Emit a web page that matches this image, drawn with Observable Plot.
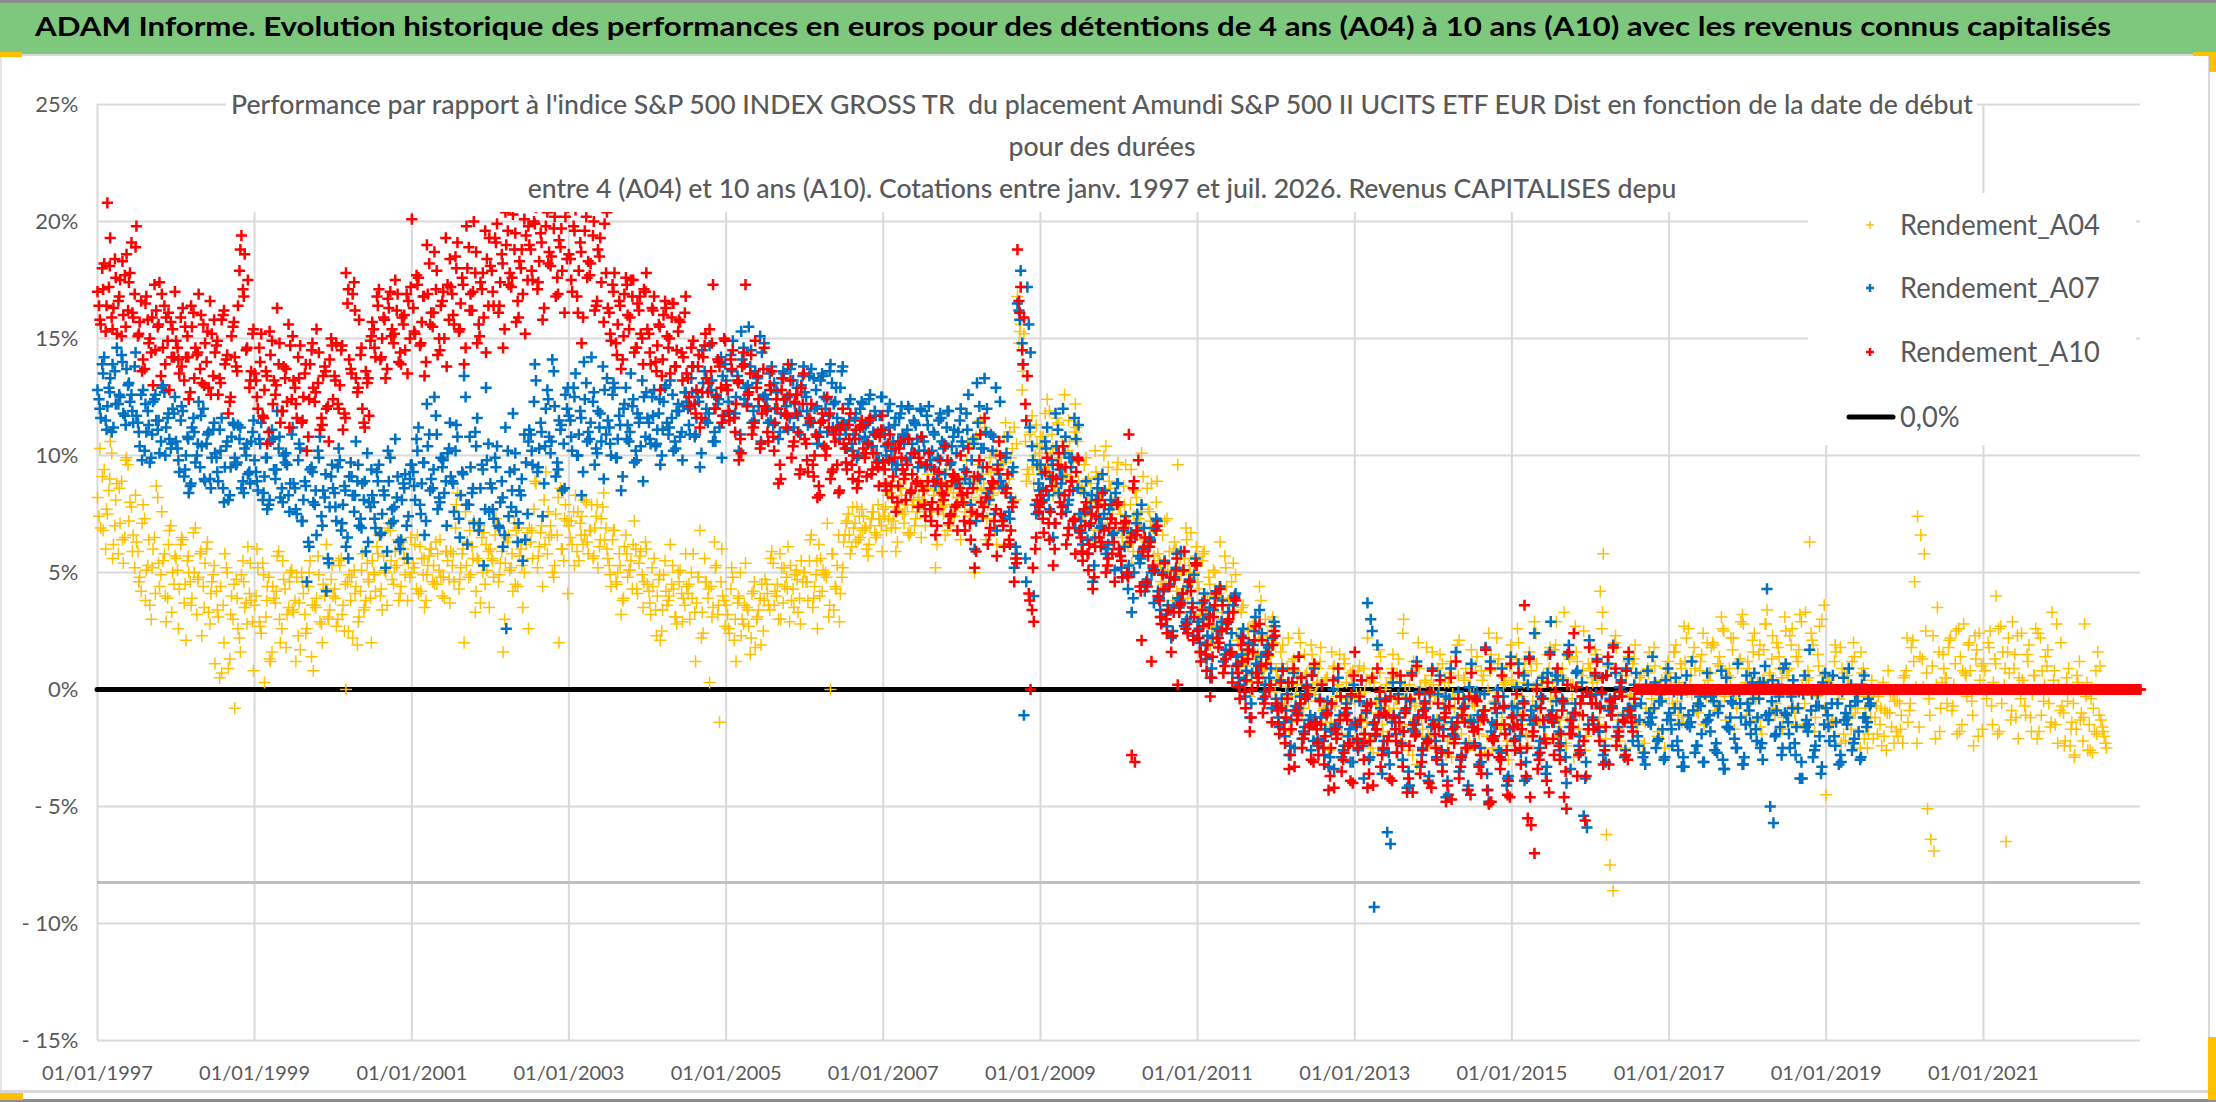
<!DOCTYPE html>
<html lang="fr">
<head>
<meta charset="utf-8">
<script src="https://cdn.jsdelivr.net/npm/d3@7"></script>
<script src="https://cdn.jsdelivr.net/npm/@observablehq/plot@0.6"></script>
<style>
  html, body { margin: 0; padding: 0; background: #fff; }
  #page { position: relative; width: 2216px; height: 1102px; overflow: hidden; background: #fff; }
  #head { position: absolute; left: 0; top: 0; }
  #chart { position: absolute; left: 0; top: 56px; }
  .deco { position: absolute; }
</style>
</head>
<body>
<div id="page">
  <svg id="head" width="2216" height="56"></svg>
  <div id="chart"></div>
  <div class="deco" style="left:0;top:1090px;width:2216px;height:3px;background:#d9d9d9"></div>
  <div class="deco" style="left:0;top:1099px;width:2216px;height:3px;background:#8c8c8c"></div>
  <div class="deco" style="left:2208px;top:56px;width:2px;height:1034px;background:#d9d9d9"></div>
  <div class="deco" style="left:0;top:56px;width:2px;height:1034px;background:#e6e6e6"></div>
  <div class="deco" style="left:0;top:52px;width:22px;height:5px;background:#FFC000"></div>
  <div class="deco" style="left:2193px;top:52px;width:23px;height:4px;background:#FFC000"></div>
  <div class="deco" style="left:2209px;top:52px;width:7px;height:20px;background:#FFC000"></div>
  <div class="deco" style="left:2208px;top:1037px;width:8px;height:63px;background:#FFC000"></div>
  <div class="deco" style="left:0;top:1093px;width:23px;height:7px;background:#FFC000"></div>
</div>
<script>
// ---------------- texts & axes ----------------
const firstYear = 1997;
const titleText = "ADAM Informe. Evolution historique des performances en euros pour des détentions de 4 ans (A04) à 10 ans (A10) avec les revenus connus capitalisés";
const subtitleLines = [
  "Performance par rapport à l'indice S&P 500 INDEX GROSS TR  du placement Amundi S&P 500 II UCITS ETF EUR Dist en fonction de la date de début",
  "pour des durées",
  "entre 4 (A04) et 10 ans (A10). Cotations entre janv. 1997 et juil. 2026. Revenus CAPITALISES depu"
];
const seriesNames = ["Rendement_A04", "Rendement_A07", "Rendement_A10"];
const zeroLineName = "0,0%";
const seriesColors = ["#FFC000", "#0070C0", "#FF0000"];
const yTicks = [-15, -10, -5, 0, 5, 10, 15, 20, 25];
const xTickYears = [1997, 1999, 2001, 2003, 2005, 2007, 2009, 2011, 2013, 2015, 2017, 2019, 2021];
const xDomainYears = [1997, 2023];
const axisCrossValue = -8.25;
const zeroLineValue = 0;

// ---------------- data: one row per year, values in % ----------------
// A10 is 0 once the 10-year horizon is no longer available (from mid-2016)
const ZERO_YEAR = [0,0,0,0,0,0,0,0,0,0,0,0, 0,0,0,0,0,0,0,0,0,0,0,0];

// set "a": readings on the 1st and 16th of each month
const A04a = [
  [8.2,6.9,9.4,7.5,10.6,6.2,8.8,7.1,5.4,9.9,8.0,6.6, 6.3,4.8,7.9,5.1,3.6,6.0,8.7,4.4,5.5,2.9,6.8,5.0],
  [5.6,4.3,6.4,2.1,5.0,3.9,6.9,4.8,2.3,5.4,3.3,4.6, 1.1,3.1,0.7,5.8,0.9,4.0,-0.8,2.6,4.9,3.5,6.1,3.8],
  [3.6,5.2,2.4,0.3,4.4,1.2,3.9,5.7,2.0,4.7,3.2,5.0, 3.3,4.8,1.7,4.1,2.6,5.5,0.8,3.9,2.9,4.5,6.2,3.4],
  [4.0,2.7,5.3,3.6,0.0,4.9,2.2,4.4,3.1,5.8,3.8,4.6, 5.5,4.2,6.6,3.4,5.0,7.1,4.7,5.9,3.8,6.3,4.9,5.4],
  [5.0,6.2,4.1,5.6,3.5,5.3,6.0,4.5,5.8,4.8,3.9,5.5, 5.9,4.6,8.4,5.2,2.0,6.3,4.9,7.2,5.6,3.7,6.7,5.1],
  [6.0,4.8,7.0,5.4,1.6,6.5,5.1,4.2,6.8,5.7,3.5,6.2, 6.9,5.6,8.8,6.1,4.4,9.3,6.5,5.0,7.5,2.0,6.0,7.9],
  [7.0,6.2,8.3,5.5,7.4,6.6,5.8,7.9,6.9,5.2,7.3,6.4, 5.6,4.4,6.8,5.0,3.2,6.1,4.8,5.5,7.2,4.1,5.9,4.6],
  [4.5,3.2,5.6,4.0,2.1,4.9,3.6,6.2,4.3,2.8,5.1,3.9, 4.4,3.0,5.8,3.7,6.8,2.4,4.6,0.3,3.5,5.3,-1.4,4.0],
  [3.6,2.4,4.8,1.2,3.9,3.0,5.4,2.7,4.1,1.8,3.4,4.5, 4.7,3.6,5.9,4.2,3.0,5.2,4.4,6.1,3.8,4.9,3.3,5.5],
  [5.0,3.8,6.6,4.4,2.6,5.6,4.9,7.1,0.0,3.4,5.3,4.1, 6.3,7.2,5.8,6.9,7.8,6.5,7.4,6.0,7.0,7.6,6.6,7.3],
  [7.7,6.8,8.4,7.2,5.9,8.0,7.5,9.0,6.6,7.9,7.3,8.2, 8.1,7.0,8.9,7.6,5.2,8.5,7.8,6.6,8.7,7.4,9.1,7.9],
  [8.9,7.6,10.4,8.2,5.0,9.6,8.5,11.2,7.9,9.3,6.8,8.8, 9.6,10.8,8.4,9.9,11.2,16.8,15.6,15.2,9.4,11.0,8.8,10.5],
  [10.8,9.4,12.4,10.1,8.3,11.6,9.9,12.0,9.0,10.6,9.7,11.2, 8.6,7.4,9.9,8.0,6.4,9.3,8.4,7.1,10.4,8.9,7.7,8.2],
  [7.8,6.5,9.6,7.1,5.4,8.5,7.3,10.1,6.1,7.7,8.8,6.8, 5.8,4.6,7.2,5.1,3.4,6.3,9.6,4.9,5.6,3.9,6.7,5.0],
  [4.6,3.2,5.9,4.0,1.9,5.1,3.6,6.3,2.8,4.4,3.9,5.4, 2.4,1.0,3.6,1.6,-0.3,2.8,1.3,4.4,0.5,2.1,1.7,3.1],
  [0.8,-0.6,1.9,0.1,-1.8,1.2,-0.2,2.4,-1.1,0.6,-0.5,1.5, -0.2,0.9,-1.4,0.4,-2.6,1.6,-0.7,0.2,-1.9,1.1,-0.4,0.6],
  [-0.4,0.8,-1.6,-0.1,2.2,-2.5,0.3,-1.0,1.4,-0.7,-2.0,0.5, -0.8,0.6,-2.2,3.0,-0.3,-1.5,1.2,-3.2,0.1,-0.9,1.8,-0.5],
  [0.2,-1.3,1.5,-0.6,-2.8,0.7,-0.2,-1.7,2.1,-0.4,0.9,-2.2, -0.6,1.0,-1.9,0.4,-0.9,2.4,-2.5,-0.1,1.3,-1.2,0.3,-3.0],
  [0.4,-1.1,2.0,-0.3,1.1,-2.4,0.8,2.9,-0.8,0.1,-1.6,1.5, -0.4,1.7,-2.0,0.6,3.3,-1.2,0.2,-2.9,1.2,-0.6,2.5,-0.1],
  [0.9,-1.3,0.4,4.2,5.8,-6.2,-7.5,-8.6,1.8,-2.2,-1.0,0.6, -0.3,1.1,-1.8,0.5,-2.7,-0.8,1.6,-1.2,0.2,-2.1,-0.4,0.9],
  [0.7,-0.6,1.9,0.3,-1.4,1.2,2.6,-0.2,0.9,-1.0,1.5,0.1, 0.4,1.8,-0.9,1.1,3.1,-0.3,0.6,2.2,-1.7,0.9,2.9,0.0],
  [1.2,-0.5,2.4,0.3,-1.6,1.7,3.4,0.6,-0.8,2.0,0.9,-1.2, 0.8,2.3,-0.7,1.4,3.2,-1.5,0.4,6.3,1.9,-0.3,2.7,0.6],
  [-4.5,0.5,-1.3,1.6,-0.4,0.9,-2.2,0.2,1.2,-1.0,-0.3,0.7, -0.8,-1.9,0.4,-1.2,-0.3,-2.4,-0.9,0.8,-1.6,-0.5,-2.0,-1.1],
  [0.6,-1.4,1.8,4.6,7.4,6.6,5.8,-5.1,-6.4,-6.9,3.5,-0.8, 0.9,-0.6,2.2,0.2,-1.9,1.4,2.8,-0.3,0.8,-2.4,1.7,0.4],
  [1.1,-0.4,2.5,0.3,4.0,-1.8,1.6,-6.5,0.7,2.9,-1.2,0.5, 0.4,-1.1,1.9,-0.2,2.6,-1.8,0.8,1.4,-0.6,3.3,-1.5,0.2],
  [-0.7,-2.2,0.9,-1.4,-2.8,0.3,-1.0,2.8,-2.6,-0.4,-1.8,1.6, -1.3,-2.0]
];
// set "b": readings on the 8th and 23rd of each month
const A04b = [
  [7.4,9.1,6.0,8.5,10.1,7.0,5.8,8.9,6.5,9.6,7.8,5.2, 5.9,4.2,7.3,5.3,3.0,6.5,8.2,4.9,5.8,3.9,7.0,4.5],
  [5.1,6.2,3.7,5.5,4.6,6.7,3.2,5.8,4.4,6.0,2.8,4.9, 4.2,0.5,3.6,5.2,1.3,3.0,4.7,2.2,5.5,3.7,4.1,2.9],
  [4.0,2.9,5.4,3.1,4.8,1.6,3.7,5.9,2.6,4.3,3.5,5.1, 3.8,2.3,5.0,3.2,4.4,1.4,3.6,5.7,2.8,4.0,3.1,4.7],
  [4.3,3.0,5.6,2.5,4.6,3.8,5.1,1.9,4.2,3.4,5.4,3.9, 5.0,6.1,4.0,5.7,3.6,6.8,4.5,5.3,4.1,6.0,5.6,4.8],
  [5.4,4.3,6.1,4.9,3.8,5.7,4.6,6.3,5.1,4.0,5.9,4.7, 5.3,6.9,4.3,5.8,7.6,4.8,6.1,3.3,5.5,6.5,4.5,5.9],
  [5.6,6.6,4.6,5.9,3.0,6.3,5.2,7.1,4.4,6.0,5.0,6.7, 6.3,7.7,5.2,6.7,8.1,5.8,7.0,4.8,6.6,8.6,5.5,7.2],
  [6.5,7.6,5.9,7.1,6.2,8.0,6.8,5.6,7.4,6.1,7.8,6.9, 5.3,6.4,4.6,5.8,3.8,6.6,5.1,4.3,6.0,5.4,4.9,6.3],
  [4.2,5.2,3.4,4.7,2.5,5.5,3.8,4.5,3.1,5.0,4.1,3.6, 4.1,5.0,3.3,4.8,2.2,5.6,3.9,4.4,6.3,3.2,4.6,3.8],
  [3.2,4.3,2.1,3.7,5.0,2.8,3.5,1.5,4.2,3.0,3.9,2.5, 4.5,3.4,5.4,4.0,5.8,3.7,4.8,2.9,4.3,5.1,3.9,4.6],
  [4.6,5.5,3.5,4.9,6.2,4.2,5.0,3.1,5.8,4.4,6.6,4.8, 6.6,7.5,6.1,7.1,6.4,7.7,6.9,5.7,7.3,6.7,7.9,7.0],
  [7.4,8.3,6.9,7.8,6.3,8.6,7.1,7.9,6.7,8.1,7.6,8.8, 7.7,8.6,7.2,8.3,6.2,8.0,7.5,9.4,7.0,8.4,7.9,8.8],
  [8.6,9.8,7.4,8.9,10.8,8.1,9.2,6.4,9.5,8.3,10.1,8.7, 9.8,11.4,9.0,10.3,8.1,14.8,12.8,10.6,9.2,11.7,10.0,9.5],
  [10.4,11.8,9.3,10.9,8.7,11.4,9.6,12.6,10.2,9.1,11.0,10.6, 8.5,9.6,7.7,8.8,6.8,9.1,8.1,10.0,7.3,8.6,7.9,9.4],
  [7.5,8.7,6.6,7.9,5.9,8.2,7.0,9.1,6.3,7.6,6.9,8.0, 5.5,6.6,4.4,5.9,3.8,6.0,5.2,4.1,6.9,5.3,4.7,5.7],
  [4.3,5.5,3.5,4.8,2.6,5.0,4.1,3.0,5.7,3.8,4.6,3.4, 2.1,3.3,1.2,2.6,0.3,2.9,1.5,3.8,0.9,2.3,1.1,2.0],
  [0.5,1.6,-0.4,0.9,-1.4,1.3,0.2,2.0,-0.8,0.7,-0.1,1.0, 0.2,1.2,-0.9,0.5,-1.6,0.9,-0.3,1.5,-1.2,0.3,-0.6,0.8],
  [-0.2,1.0,-1.2,0.4,-2.1,0.6,-0.6,1.7,-1.5,0.0,-0.9,0.9, -0.4,1.3,-1.6,0.2,-2.6,0.8,-0.7,2.0,-1.2,0.4,-2.0,0.6],
  [-0.3,0.9,-1.5,0.3,-2.2,1.2,-0.8,1.9,-1.1,0.5,-2.6,0.1, -0.2,1.4,-1.3,0.6,-2.0,0.8,-0.6,2.2,-1.7,0.2,-2.4,1.0],
  [0.2,1.3,-1.0,0.7,-1.9,1.6,-0.5,2.4,-1.4,0.4,-2.2,0.9, 0.3,1.9,-1.3,0.9,-2.3,1.4,-0.4,2.7,-1.7,0.6,-2.6,1.1],
  [0.5,1.7,-1.5,2.6,-2.4,1.0,-0.7,2.0,-1.3,0.3,-2.8,1.2, -0.2,1.3,-1.5,0.6,-2.3,0.9,-0.9,1.8,-2.0,0.1,-2.9,0.5],
  [0.5,1.6,-0.5,1.1,-1.2,2.2,0.2,1.4,-0.9,0.8,2.4,-0.3, 0.7,2.0,-0.6,1.4,2.6,-1.3,0.9,1.7,-0.4,1.2,3.2,0.3],
  [0.9,2.1,-0.4,1.5,-1.9,2.8,0.2,1.3,-1.1,1.8,0.5,3.1, 0.6,1.9,-1.0,1.2,2.9,-0.6,0.8,2.4,-1.8,1.5,0.1,3.6],
  [0.3,-1.5,1.2,-0.6,1.8,-1.9,0.6,-1.1,2.0,-0.2,-2.5,0.9, -1.2,-0.3,-2.1,-0.7,-1.5,0.3,-2.6,-1.0,-0.2,-1.8,-0.6,-2.3],
  [0.8,-0.9,2.1,0.1,-1.6,1.3,2.5,-0.4,1.0,-2.1,1.6,0.3, 0.5,1.8,-0.9,1.1,2.6,-1.5,0.7,1.9,-0.5,2.3,-2.0,1.0],
  [0.8,2.0,-0.7,1.3,-1.9,2.7,0.2,1.6,-1.3,0.9,2.3,-0.4, 0.1,1.5,-1.2,0.6,-2.1,2.2,-0.5,1.0,-1.6,0.4,2.8,-0.9],
  [-1.0,0.5,-2.4,-0.6,-1.7,1.2,-2.2,-0.3,-1.5,-2.7,0.8,-1.1, -1.6,-2.3]
];
// set "c": readings on the 12th and 27th of each month
const A04c = [
  [10.3,6.8,7.7,9.0,5.6,8.1,8.6,6.4,9.8,7.2,5.9,8.3, 4.6,7.1,3.8,6.4,5.2,4.1,5.4,7.6,4.0,6.2,3.3,5.7],
  [2.6,6.5,4.5,5.7,3.6,5.0,4.7,5.9,3.5,6.3,4.1,5.3, 3.4,4.4,2.0,5.0,3.2,4.5,3.9,1.6,4.6,2.8,5.4,0.8],
  [6.0,2.7,4.9,3.8,1.3,4.4,4.2,3.0,5.5,1.8,4.6,3.4, 1.2,3.7,4.6,2.4,5.0,3.6,3.5,4.9,2.0,4.3,3.0,5.3],
  [3.9,5.5,3.2,4.5,2.5,4.8,4.1,2.9,5.1,3.5,4.7,2.0, 4.9,5.8,4.3,5.1,6.9,5.5,5.2,6.4,4.4,5.6,3.8,6.5],
  [5.2,6.6,4.2,5.6,4.9,6.0,5.3,4.5,6.4,4.8,5.9,3.7, 5.8,7.9,4.7,6.0,5.3,6.8,5.6,4.2,7.0,5.0,6.2,3.5],
  [5.5,7.3,4.9,6.1,5.4,6.6,5.8,4.5,6.9,5.3,6.4,2.6, 6.8,8.9,5.7,7.0,6.2,7.6,6.6,5.3,8.2,6.0,7.3,4.1],
  [7.2,5.3,7.6,6.6,8.1,6.3,6.8,5.7,7.9,6.4,8.4,6.0, 4.9,6.8,4.5,5.3,3.9,5.8,5.1,6.2,4.3,5.7,3.5,6.0],
  [3.7,4.4,2.3,4.9,3.4,4.2,4.0,5.3,3.1,4.6,2.9,5.8, 4.5,3.9,1.2,4.8,3.3,4.6,4.3,3.1,5.2,3.6,6.0,2.7],
  [2.6,5.2,3.0,4.0,2.3,3.6,3.4,2.2,4.6,3.1,1.9,3.8, 4.1,5.6,3.6,4.5,3.0,5.2,4.3,5.3,3.5,4.7,2.8,5.0],
  [4.6,6.4,3.9,5.5,4.0,5.1,4.8,3.6,5.8,4.3,2.9,5.2, 7.1,6.6,7.8,6.3,7.4,6.8,6.9,6.2,7.6,6.5,7.3,5.9],
  [7.8,7.3,8.9,6.9,7.7,8.3,7.6,6.7,8.5,7.0,8.1,6.5, 8.0,9.2,7.2,8.5,7.6,8.9,7.9,6.8,8.7,7.4,8.2,6.4],
  [8.0,10.6,7.7,9.0,8.6,11.5,8.8,7.3,9.9,8.4,6.2,9.4, 9.7,8.6,11.0,9.3,10.5,15.3,13.6,8.9,10.9,9.5,11.3,10.1],
  [10.8,9.5,11.9,10.3,8.5,11.3,10.6,9.2,11.5,10.0,12.2,8.9, 8.7,7.2,9.0,8.0,10.2,7.8,8.4,7.5,9.5,8.1,6.9,9.7],
  [6.8,7.9,6.2,9.4,7.4,6.6,7.6,6.4,8.6,7.2,5.7,8.9, 5.4,4.5,7.3,4.8,5.9,4.2,5.6,4.3,6.4,5.0,3.7,6.1],
  [3.5,5.8,3.1,4.5,2.7,4.0,4.4,3.3,5.2,3.8,2.4,4.9, 1.9,3.5,1.0,2.5,0.6,1.5,2.2,0.8,3.0,1.4,2.7,-0.1],
  [0.4,1.1,-0.7,2.2,-0.3,0.8,0.6,-0.8,1.5,0.0,1.9,-1.5, 0.3,1.8,-0.8,0.5,-1.4,1.0,0.1,-1.1,1.3,-0.4,0.7,-2.2],
  [-2.3,-0.2,0.9,-1.4,0.4,-2.7,-0.5,0.7,-1.8,0.2,-1.1,1.5, -0.4,-1.2,2.4,-0.9,0.2,-2.8,-0.6,0.9,-1.7,0.3,-2.4,1.6],
  [-2.4,-0.1,1.1,-1.0,0.3,-2.9,-0.4,0.6,-1.9,0.4,-1.3,1.7, -0.7,-1.4,0.8,-2.7,0.0,1.5,-0.5,1.1,-1.6,0.5,-2.2,1.9],
  [-0.6,2.6,-1.5,0.3,-2.5,1.2,0.1,1.1,-1.3,0.6,-2.1,1.8, -0.5,2.9,-1.6,0.5,-2.4,1.3,0.2,1.6,-1.1,0.8,-2.0,2.1],
  [0.3,1.5,-1.2,3.3,-2.1,1.1,-0.6,2.3,-1.7,0.6,-2.5,1.4, -0.8,1.9,-2.2,-0.1,-1.4,0.7,-0.4,1.0,-1.8,0.4,-2.5,1.2],
  [0.1,1.6,-1.1,0.9,2.7,-0.1,0.6,1.8,-0.7,1.2,-1.5,2.0, 0.7,1.9,-0.5,1.0,2.5,0.2,0.5,2.2,-0.8,1.3,2.8,-1.1],
  [0.3,1.6,-1.3,1.9,0.4,2.8,0.7,2.3,-0.6,1.4,-1.7,2.5, 0.9,2.6,-1.5,1.7,0.2,3.3,0.5,2.1,-1.2,1.0,3.0,-0.8],
  [0.4,-1.3,1.9,-0.4,-2.3,0.7,0.1,-1.7,1.4,-0.8,1.6,-2.1, -2.5,-1.2,-0.1,-1.9,-0.8,-2.0,-1.0,-0.2,-2.3,-0.5,-1.7,0.5],
  [2.2,-0.6,1.2,-2.3,1.4,0.1,0.7,-1.1,2.3,0.2,-1.8,1.5, 0.5,2.1,-0.7,2.5,-1.8,0.8,0.6,2.0,-1.1,1.3,2.4,-1.7],
  [0.0,1.8,-1.5,1.1,2.6,-0.6,0.9,2.2,-0.9,1.5,-2.1,2.4, -0.7,1.2,-1.8,0.6,2.4,-1.1,0.2,1.7,-1.4,0.8,-2.3,2.0],
  [-2.4,-0.5,-1.7,-2.9,0.6,-1.3,-1.2,0.3,-2.6,-0.8,-1.9,1.0, -1.8,-2.5]
];

const A07a = [
  [12.8,11.6,14.2,12.1,13.3,11.2,14.6,12.5,11.8,13.7,12.3,11.4, 11.7,10.4,12.8,11.0,9.7,12.3,11.5,10.1,13.0,11.2,10.7,12.0],
  [10.6,9.3,11.9,10.0,8.4,11.2,9.7,12.3,10.4,8.9,11.0,9.9, 10.1,8.9,11.6,9.5,8.1,10.8,9.9,11.3,8.6,10.3,9.2,10.6],
  [9.8,8.5,11.4,9.1,7.7,10.6,9.4,11.9,8.2,10.0,9.6,8.8, 8.8,7.5,10.3,8.1,4.6,9.4,8.0,6.6,10.8,8.5,4.2,7.8],
  [8.6,7.2,9.8,7.9,6.1,9.1,8.3,10.6,7.0,8.8,5.9,8.0, 8.3,6.9,9.6,7.5,5.2,8.9,7.7,10.7,6.3,8.1,9.2,7.4],
  [9.6,8.1,11.2,8.8,6.6,10.4,9.0,12.5,7.7,9.9,8.4,10.1, 9.1,7.6,10.8,8.3,13.4,6.2,9.5,7.1,11.6,8.6,5.3,9.8],
  [8.8,7.3,10.4,8.0,6.1,2.6,9.3,11.8,7.6,8.5,5.5,9.7, 11.1,9.6,13.2,10.3,7.4,12.0,10.8,14.1,9.1,11.5,8.5,12.6],
  [11.7,10.2,13.5,10.9,8.3,12.4,11.0,14.2,9.6,11.9,10.6,12.8, 11.5,10.0,12.9,10.7,8.5,12.2,11.3,13.5,9.7,11.8,10.4,12.5],
  [11.6,10.5,12.8,11.1,9.6,12.3,11.4,13.2,10.2,11.9,10.8,12.1, 12.3,10.9,13.8,11.6,9.5,13.1,12.0,14.7,10.6,12.6,11.2,13.4],
  [13.2,11.8,14.9,12.5,10.2,14.1,12.9,15.5,11.4,13.6,12.1,14.4, 12.6,11.4,13.8,12.0,10.7,13.3,12.4,11.1,13.9,12.2,11.7,13.0],
  [12.7,11.3,13.7,12.0,10.5,13.2,12.5,11.0,13.9,12.2,11.6,12.9, 11.4,10.3,12.4,10.9,9.9,12.0,11.2,10.6,12.6,11.0,10.1,11.7],
  [11.1,10.0,12.2,10.6,9.4,11.6,10.9,9.8,12.0,10.5,11.3,10.2, 10.8,9.5,12.1,10.2,8.7,11.5,10.6,9.2,11.9,10.4,8.9,11.0],
  [10.6,9.0,12.6,9.8,6.0,11.4,10.3,13.3,8.4,10.9,7.5,9.6, 8.9,7.4,10.8,8.2,5.2,16.5,17.9,-1.1,17.2,14.4,4.0,9.6],
  [9.6,8.1,11.2,9.0,6.5,10.4,9.4,12.0,7.6,9.9,8.5,10.7, 7.5,6.2,8.9,7.0,4.6,8.1,7.3,9.2,5.8,7.7,6.6,8.4],
  [6.0,4.8,7.4,5.3,3.3,6.6,5.7,7.9,4.2,6.1,5.0,6.9, 4.2,3.1,5.5,3.6,2.2,4.8,3.9,5.9,2.7,4.4,3.3,4.9],
  [2.9,1.6,4.1,2.3,0.5,3.4,2.6,4.4,1.2,2.8,1.9,3.6, 1.4,0.2,2.6,0.8,-1.2,1.9,1.1,3.4,-0.4,1.6,0.5,2.2],
  [-0.4,-1.6,0.9,-0.9,-2.8,0.3,-0.7,1.4,-2.1,-0.2,-1.3,0.6, -1.2,-2.4,0.2,-1.7,-3.3,-0.6,-1.5,0.5,-2.9,-1.0,-2.0,-0.3],
  [-1.4,-2.6,0.4,-1.9,3.7,3.0,-9.3,1.9,-0.8,-2.2,-6.1,-6.6, -1.1,-2.7,0.3,-1.8,-4.2,-0.5,-1.4,1.2,-3.3,-0.9,-2.1,-0.2],
  [-1.3,-2.9,0.6,-1.7,-4.6,-0.4,-1.9,1.6,-3.5,-0.8,-2.3,0.1, -1.6,-0.3,-3.2,-1.1,1.8,-4.8,-1.4,-0.6,-2.6,0.9,-1.9,-3.7],
  [-0.7,-2.1,1.1,-1.3,-3.9,0.2,-0.9,2.4,-2.8,-0.3,-1.6,0.7, 2.9,-1.4,0.4,-2.3,-0.6,1.5,-3.4,-1.0,0.8,-2.7,-5.4,-5.9],
  [-0.2,-1.5,1.3,-0.7,-2.8,0.6,-0.4,1.9,-2.0,0.1,-1.1,0.9, -0.8,-2.2,0.7,-1.3,-2.9,0.2,-1.0,1.4,-2.5,-0.5,-1.7,0.4],
  [-1.0,-2.4,0.5,-1.5,-3.3,0.1,-1.1,1.2,-2.7,-0.6,-1.9,-0.2, -1.3,-0.3,-2.6,-1.0,0.8,-3.4,-1.6,-0.5,-2.1,1.1,-1.2,-2.9],
  [-0.6,-1.9,0.7,-1.2,-2.5,0.3,4.3,-5.0,-5.7,-0.9,-1.6,0.9, -1.1,-2.5,0.4,-1.6,-3.8,-0.2,-1.3,1.7,-2.9,-0.7,-2.0,0.3],
  [-0.8,-2.2,0.6,-1.4,-3.2,-0.1,-1.0,0.9,-2.6,-0.5,-1.8,0.2, -1.2,-0.4]
];
const A07b = [
  [12.4,13.9,11.5,12.9,11.0,13.6,12.2,14.3,11.7,13.0,12.6,13.8, 11.4,12.6,10.2,11.9,9.9,12.4,11.1,10.6,12.7,11.6,10.3,11.8],
  [10.3,11.5,9.1,10.8,8.7,11.6,10.0,9.5,12.0,10.5,9.0,11.1, 9.9,11.1,8.6,10.4,8.3,11.4,9.6,10.7,8.9,10.0,9.3,11.0],
  [9.3,10.7,8.1,9.9,7.9,11.1,9.0,10.3,8.6,9.7,8.3,10.9, 8.6,9.8,7.2,8.9,6.3,9.5,7.9,10.2,7.4,8.2,5.6,9.1],
  [8.4,9.5,6.8,8.7,6.5,9.7,7.6,8.9,7.3,8.1,10.1,7.8, 8.0,9.3,6.6,8.5,5.9,9.9,7.2,8.2,6.0,8.8,7.0,9.0],
  [9.3,10.7,7.9,9.7,7.2,10.9,8.6,11.7,8.2,9.5,8.9,10.3, 8.9,10.2,7.3,9.3,12.5,7.9,8.4,11.0,6.8,9.6,7.7,10.5],
  [8.6,9.9,7.0,8.9,6.6,10.2,7.8,9.4,6.3,8.3,10.9,7.5, 10.9,12.3,9.3,11.4,8.8,12.8,10.1,13.6,9.7,11.1,10.5,12.0],
  [11.5,12.9,10.0,11.9,9.3,13.1,10.7,12.3,10.3,11.2,13.8,10.9, 11.2,12.6,9.9,11.7,9.1,12.9,10.6,12.1,10.2,11.4,13.2,10.8],
  [11.4,12.5,10.4,11.8,10.0,12.9,10.9,11.6,10.6,12.2,11.0,12.7, 12.0,13.3,10.8,12.5,10.1,13.6,11.4,12.8,11.0,12.2,14.2,11.7],
  [12.8,14.3,11.6,13.4,10.9,14.6,12.2,13.8,11.9,13.1,15.1,12.5, 12.4,13.5,11.3,12.8,11.0,13.6,12.1,11.6,13.2,12.6,11.9,13.4],
  [12.5,13.4,11.4,12.8,10.8,13.5,12.0,11.7,13.1,12.3,11.2,13.6, 11.2,12.2,10.5,11.6,10.0,12.3,10.8,11.4,10.4,11.9,11.0,12.5],
  [10.9,11.9,10.2,11.3,9.6,11.8,10.5,11.1,9.9,11.5,10.7,12.0, 10.6,11.7,9.8,11.0,9.0,11.8,10.3,11.2,9.6,10.8,10.1,11.5],
  [10.4,11.8,8.8,10.7,7.2,12.1,9.5,11.0,8.1,10.2,12.9,9.2, 8.6,9.9,7.6,9.3,6.1,16.2,14.8,5.6,15.6,10.4,7.9,8.8],
  [9.2,10.6,8.3,9.8,7.1,11.1,8.8,10.1,7.9,9.5,11.6,8.6, 7.2,8.4,6.4,7.8,5.3,8.6,6.9,7.5,6.0,8.1,6.7,8.8],
  [5.7,6.8,4.9,6.3,3.9,7.1,5.4,6.0,4.5,6.5,5.2,7.3, 3.9,5.0,3.2,4.5,2.5,5.2,3.5,4.1,2.9,4.7,3.7,5.6],
  [2.6,3.7,1.9,3.2,0.9,3.9,2.2,2.9,1.5,3.3,2.4,4.0, 1.1,2.3,0.4,1.7,-0.6,2.5,0.7,1.4,-0.1,1.9,0.9,2.9],
  [-0.7,0.4,-1.4,-0.2,-2.4,0.7,-1.0,-0.3,-1.8,0.2,-1.1,-2.2, -1.5,-0.4,-2.2,-0.9,-2.9,0.0,-1.9,-1.1,-2.6,-0.6,-1.7,-3.1],
  [-1.6,-0.5,-2.4,-1.0,-3.0,2.5,-2.0,-1.2,-3.6,-0.4,-2.7,-1.4, -1.4,-0.2,-2.3,-0.9,-3.5,0.7,-1.8,-1.1,-2.8,-0.5,-3.9,-1.6],
  [-1.5,-0.2,-2.6,-0.8,-3.9,0.9,-2.0,-1.2,-3.0,-0.4,-4.3,-1.3, -1.4,-0.1,-2.5,-0.9,-3.6,1.2,-2.1,-1.0,-2.9,-0.3,-4.1,-1.7],
  [-1.1,0.1,-2.0,-0.5,-3.1,1.4,-1.5,-0.7,-2.5,0.5,-3.6,-1.2, -0.9,0.6,-1.8,-0.4,-2.9,1.9,-1.3,-0.6,-2.4,0.3,-3.8,-1.5],
  [-0.6,0.6,-1.8,-0.2,-2.4,1.1,-1.1,-0.3,-1.6,0.4,-2.9,-0.8, -1.1,0.2,-2.0,-0.6,-2.7,0.8,-1.5,-0.8,-2.2,-0.2,-3.0,-1.3],
  [-1.3,-0.1,-2.2,-0.8,-2.9,0.6,-1.6,-0.9,-2.4,-0.3,-3.1,-1.4, -1.1,-0.2,-2.3,-0.7,-3.0,0.5,-1.7,-0.6,-2.5,-0.1,-3.2,-1.5],
  [-0.9,0.3,-1.7,-0.4,-2.3,1.0,-1.3,-0.5,-2.0,0.2,-2.8,-1.0, -1.4,-0.3,-2.3,-0.8,-3.1,0.6,-1.8,-0.9,-2.6,-0.2,-3.6,-1.5],
  [-1.1,0.1,-2.0,-0.6,-2.8,0.5,-1.5,-0.7,-2.3,-0.1,-3.0,-1.2, -1.6,-0.7]
];
const A07c = [
  [12.0,13.5,11.1,12.7,13.9,12.2,12.6,14.0,11.3,13.1,11.9,14.4, 11.0,9.8,12.2,11.3,10.9,12.6,11.5,12.9,10.0,11.8,10.5,12.5],
  [9.8,12.1,9.4,10.7,8.8,11.0,10.5,11.7,9.0,10.9,8.6,11.4, 9.3,10.2,8.0,10.6,9.5,11.3,9.7,11.2,8.4,10.5,8.8,11.5],
  [8.9,10.5,8.4,9.9,8.1,10.7,9.4,10.8,8.0,10.1,7.6,11.2, 7.7,10.5,7.2,8.7,6.1,9.3,8.5,9.9,7.0,9.2,5.4,9.6],
  [7.8,10.3,7.1,8.5,5.6,9.1,8.3,9.6,6.9,8.9,6.3,9.4, 7.3,8.9,6.7,8.3,10.2,7.1,7.8,9.1,6.4,8.6,5.6,9.6],
  [8.7,10.2,7.5,9.7,12.2,8.5,9.4,10.9,8.0,9.8,7.0,11.4, 8.8,11.3,6.5,9.2,7.9,10.8,8.6,10.4,7.1,9.4,12.9,7.6],
  [7.7,9.5,6.9,8.2,11.2,7.4,8.5,10.1,7.1,9.0,6.4,10.6, 10.2,13.9,9.5,11.0,10.4,12.4,10.6,12.1,9.4,11.3,8.6,12.9],
  [10.8,12.5,10.0,11.6,14.0,10.6,11.4,12.7,10.1,11.8,9.0,13.3, 10.5,13.1,9.9,11.3,12.0,10.7,11.0,12.4,9.8,11.6,8.9,12.7],
  [10.7,11.7,10.5,12.4,11.1,13.0,11.2,12.6,10.3,11.9,9.8,12.7, 11.3,12.7,10.9,12.3,14.5,11.5,11.8,13.2,10.6,12.4,9.9,13.9],
  [12.3,13.6,11.8,13.2,15.3,12.4,13.0,14.5,11.5,13.3,10.6,14.8, 12.0,11.5,13.1,12.7,11.8,13.5,12.5,13.7,11.2,12.9,10.9,13.8],
  [11.9,11.5,13.3,12.1,11.0,13.4,12.4,13.6,11.2,12.9,10.7,13.8, 10.9,11.5,10.2,11.8,10.7,12.2,11.3,12.4,10.4,11.7,9.8,12.5],
  [10.4,11.2,9.7,11.6,10.6,12.1,10.8,12.1,10.1,11.4,9.5,11.9, 10.2,11.3,9.5,10.9,9.9,11.6,10.5,11.9,9.7,11.1,8.8,12.0],
  [9.4,11.1,7.9,10.5,13.1,9.0,10.3,12.0,8.6,10.8,6.8,12.3, 8.7,10.1,7.3,9.5,5.8,15.8,13.9,4.6,11.2,9.8,7.5,8.5],
  [8.6,10.3,7.7,9.6,11.8,8.4,9.1,10.8,8.1,9.9,6.9,11.3, 6.7,7.6,5.8,8.3,6.5,9.0,7.0,8.5,6.2,7.9,5.1,8.8],
  [5.2,6.1,4.3,6.7,5.0,7.5,5.6,6.9,4.7,6.4,3.7,7.2, 3.4,4.2,2.7,4.8,3.5,5.8,3.8,5.1,3.0,4.6,2.3,5.4],
  [2.0,3.0,1.3,3.5,2.2,4.2,2.5,3.8,1.7,3.3,0.7,4.1, 0.5,1.5,-0.3,2.0,0.7,3.1,1.0,2.4,0.2,1.8,-0.8,2.7],
  [-1.2,-0.4,-2.0,0.3,-1.3,-2.5,-0.8,0.5,-1.6,-0.3,-2.6,0.9, -2.1,-1.2,-2.8,-0.5,-1.8,-3.4,-1.6,-0.3,-2.4,-1.0,-3.1,0.2],
  [-2.2,-1.3,-3.8,-0.6,-2.9,-1.5,-1.7,-0.4,-2.6,-1.1,-3.2,0.3, -1.9,-1.2,-3.0,-0.4,-4.1,-1.7,-1.5,-0.1,-2.5,-0.8,-3.7,0.9],
  [-2.2,-1.3,-3.2,-0.3,-4.5,-1.4,-1.6,-0.1,-2.8,-0.7,-4.1,1.1, -2.3,-1.1,-3.1,-0.2,-4.3,-1.8,-1.5,0.0,-2.7,-0.8,-3.8,1.4],
  [-1.6,-0.8,-2.7,0.6,-3.8,-1.3,-1.2,0.2,-2.2,-0.4,-3.3,1.6, -1.4,-0.5,-2.6,0.4,-4.0,-1.6,-1.0,0.7,-2.0,-0.3,-3.1,2.1],
  [-1.2,-0.2,-1.8,0.5,-3.1,-0.9,-0.7,0.7,-2.0,-0.1,-2.6,1.3, -1.6,-0.7,-2.4,-0.1,-3.2,-1.4,-1.2,0.3,-2.1,-0.5,-2.9,0.9],
  [-1.7,-0.8,-2.6,-0.2,-3.3,-1.5,-1.4,0.0,-2.4,-0.7,-3.1,0.7, -1.8,-0.5,-2.7,0.0,-3.4,-1.6,-1.2,-0.1,-2.5,-0.6,-3.2,0.6],
  [-1.4,-0.4,-2.2,0.3,-3.0,-1.1,-1.0,0.4,-1.9,-0.3,-2.5,1.1, -1.9,-0.8,-2.8,-0.1,-3.8,-1.6,-1.5,-0.2,-2.4,-0.7,-3.3,0.7],
  [-1.6,-0.6,-2.4,0.0,-3.1,-1.3,-1.2,0.2,-2.1,-0.5,-2.9,0.6, -1.4,-0.6]
];

const A10a = [
  [17.0,15.6,18.2,20.8,19.3,16.3,15.2,17.5,16.0,18.6,17.8,15.9, 19.8,15.7,14.1,16.8,15.0,13.0,16.2,17.4,14.6,15.9,12.8,15.4],
  [14.9,13.5,16.3,14.2,12.4,15.5,14.6,16.9,13.1,14.8,12.9,15.2, 14.4,12.6,15.8,13.9,11.8,15.1,14.2,16.4,19.4,18.6,17.5,13.6],
  [13.5,12.0,15.2,12.8,10.5,14.3,13.2,16.3,11.4,13.8,12.3,14.7, 13.2,11.6,14.7,12.5,10.2,13.9,12.9,15.4,11.1,13.4,12.0,14.1],
  [12.4,14.8,13.0,11.1,17.8,14.1,16.9,13.3,15.8,12.0,13.6,11.7, 15.7,14.2,17.1,15.0,13.3,16.3,15.4,17.5,14.0,15.9,14.5,16.6],
  [20.1,15.2,17.6,15.7,13.4,16.9,16.1,18.7,14.3,16.4,15.0,17.3, 17.2,15.6,19.1,16.5,13.9,18.0,16.9,20.0,14.8,17.4,15.9,18.4],
  [18.1,16.4,19.9,17.4,14.6,19.0,17.8,20.3,15.7,18.3,16.9,19.4, 19.0,17.5,20.6,18.3,15.8,19.8,18.7,21.0,16.8,19.2,17.9,20.2],
  [18.6,17.0,20.5,17.9,14.8,19.6,18.3,20.9,16.2,18.8,17.4,19.9, 16.3,14.9,17.8,15.6,13.7,16.9,16.0,17.5,14.4,16.5,15.2,17.1],
  [15.4,13.9,16.8,14.7,12.8,16.0,15.1,13.5,16.5,14.5,15.7,14.2, 13.5,12.1,14.9,12.8,11.2,14.2,13.3,15.4,17.3,12.5,13.8,11.7],
  [13.0,11.5,14.5,12.2,9.8,13.8,17.3,12.7,10.9,14.9,12.4,11.8, 12.1,10.6,13.6,11.4,8.8,12.8,11.8,13.9,9.9,12.3,11.0,12.9],
  [10.7,9.3,12.2,10.0,8.2,11.4,10.4,12.5,9.0,10.9,9.6,11.1, 10.5,9.4,11.8,10.0,8.6,11.2,10.3,9.1,11.6,10.1,9.7,10.8],
  [9.7,8.5,10.9,9.1,7.6,10.3,9.4,8.1,10.7,9.2,8.8,9.9, 8.7,7.4,10.1,8.0,6.6,9.3,8.4,10.4,7.1,8.9,7.8,9.0],
  [8.3,6.8,10.3,7.6,5.2,9.1,8.0,11.6,6.2,8.6,7.2,9.4, 7.5,6.1,9.2,6.8,4.6,18.8,17.2,15.9,13.4,0.0,2.9,8.1],
  [8.3,6.7,9.9,7.6,5.3,9.0,8.0,10.4,6.2,8.5,7.2,9.3, 6.8,5.5,8.0,6.2,4.3,7.4,6.5,8.4,5.0,6.9,5.8,7.1],
  [6.0,4.8,7.2,10.9,-2.8,-3.1,9.8,2.1,6.5,5.7,1.2,5.1, 4.0,2.8,5.4,3.4,1.6,4.7,0.2,3.7,5.9,2.4,4.2,3.1],
  [2.5,1.2,3.8,1.9,-0.3,3.1,2.2,4.3,0.7,2.6,1.5,3.3, 1.0,-0.4,2.2,0.4,-1.8,1.6,0.7,2.8,-1.0,1.1,0.0,1.9],
  [-0.6,-1.9,0.8,-1.2,-3.4,0.3,-0.9,1.4,-2.5,-0.4,-1.6,0.6, -1.4,-2.8,0.2,-2.0,-4.3,-0.6,-1.7,0.9,-3.5,-1.1,-2.4,-0.2],
  [1.6,-2.5,0.4,-1.9,-4.2,-0.6,-1.4,0.9,-3.3,-1.0,-2.2,-0.3, -1.2,-2.7,0.6,-1.8,-4.4,-0.4,-1.5,1.0,-3.6,-0.9,-2.3,-0.1],
  [-1.5,-3.0,0.4,-2.0,-4.8,-0.7,-1.7,1.2,-3.8,-1.1,-2.5,-0.3, -1.6,-0.4,-3.3,-1.2,1.7,-4.9,-2.1,-0.8,-2.9,0.6,-1.9,-3.9],
  [-1.2,-2.6,0.7,-1.7,3.6,-5.5,-5.8,-7.0,-3.4,-0.8,-2.1,0.3, -1.1,-2.8,0.9,-1.9,-4.6,0.2,-1.3,2.4,-3.7,-0.6,-2.2,-0.1],
  [-0.3,-1.7,1.2,-0.8,-3.2,0.6,-0.5,1.8,-2.4,-0.1,-1.3,0.8, -0.9,-1.8,0,0,0,0,0,0,0,0,0,0],
  ZERO_YEAR, ZERO_YEAR, ZERO_YEAR, ZERO_YEAR, ZERO_YEAR, ZERO_YEAR,
  [0]
];
const A10b = [
  [16.4,18.0,15.3,17.2,15.9,18.4,16.6,15.1,17.7,16.2,19.1,16.9, 15.1,16.6,13.7,15.8,14.4,17.3,15.5,13.4,16.4,14.9,15.7,14.2],
  [14.6,15.9,13.2,15.1,12.7,16.1,14.3,13.7,15.6,14.0,16.6,13.4, 14.7,13.3,16.0,14.1,12.3,15.5,13.8,17.9,17.1,14.5,12.9,15.2],
  [13.2,14.6,11.7,13.6,11.0,14.9,12.6,13.9,11.9,13.3,15.6,12.4, 12.9,14.2,11.4,13.5,10.8,14.5,12.3,13.1,11.6,13.8,12.1,15.0],
  [13.4,12.2,14.5,11.8,16.5,13.7,17.4,12.7,14.3,11.4,13.1,14.9, 15.4,16.8,14.1,15.9,13.7,17.0,14.8,16.2,14.4,15.6,16.9,15.0],
  [16.3,17.7,14.7,16.8,14.0,18.2,15.5,17.1,15.0,16.6,19.3,15.8, 16.9,18.5,15.3,17.6,14.6,18.9,16.2,17.8,15.6,17.1,19.6,16.4],
  [17.9,19.3,16.1,18.6,15.4,19.6,17.2,18.8,16.6,18.0,20.1,17.5, 18.8,20.0,17.1,19.5,16.3,20.4,18.1,19.7,17.6,18.9,20.7,18.4],
  [18.4,19.8,16.8,19.1,15.9,20.2,17.7,19.4,16.4,18.5,20.6,17.8, 16.1,17.3,14.8,16.6,14.1,17.6,15.4,16.8,14.6,16.2,15.0,17.0],
  [15.2,16.3,14.0,15.6,13.4,16.6,14.6,15.9,13.8,15.3,14.4,16.1, 13.3,14.6,12.2,13.8,11.6,14.7,12.7,13.6,12.0,14.1,12.9,15.0],
  [12.8,14.1,11.6,13.2,10.7,14.4,12.1,13.5,11.2,12.9,10.3,13.7, 11.9,13.0,10.8,12.4,9.6,13.3,11.2,12.6,10.4,11.8,9.2,12.2],
  [10.5,11.6,9.6,10.9,8.7,11.8,10.0,11.2,9.3,10.6,8.4,11.3, 10.3,11.3,9.6,10.7,8.9,11.5,9.9,10.5,9.2,10.9,9.5,11.1],
  [9.4,10.5,8.7,9.9,8.0,10.6,9.0,9.6,8.4,10.1,8.9,9.7, 8.5,9.6,7.7,8.9,7.0,9.8,8.1,8.7,7.4,9.2,7.9,8.6],
  [8.0,9.3,7.1,8.6,5.9,9.8,7.4,8.2,6.6,8.9,7.7,10.6, 7.2,8.4,6.4,7.8,5.6,16.6,14.5,12.2,4.1,3.4,6.0,7.6],
  [8.0,9.3,7.1,8.7,6.0,9.6,7.5,8.3,6.6,8.9,7.3,9.9, 6.5,7.7,5.8,7.1,4.8,7.8,6.1,6.8,5.3,7.3,6.3,7.9],
  [5.7,6.9,5.0,6.3,8.6,6.6,4.4,5.9,4.6,6.1,5.3,6.8, 3.8,4.9,3.0,4.4,2.3,5.1,3.3,4.1,2.6,4.6,3.5,5.4],
  [2.2,3.4,1.5,2.8,0.5,3.6,1.8,2.5,1.0,2.9,1.6,3.9, 0.7,1.9,-0.1,1.3,-1.2,2.1,0.3,1.0,-0.6,1.5,0.2,2.5],
  [-0.9,0.3,-1.7,-0.4,-2.8,0.9,-1.3,-0.6,-2.1,0.1,-1.5,-3.1, -1.7,-0.5,-2.5,-1.1,-3.7,0.4,-2.1,-1.3,-3.0,-0.8,-2.3,-4.0],
  [-1.5,-0.3,-2.3,-0.9,-3.6,0.5,-1.9,-1.1,-2.8,-0.5,-2.0,-3.9, -1.7,-0.4,-2.4,-1.0,-3.8,0.6,-2.0,-1.2,-3.1,-0.6,-2.2,-4.2],
  [-1.9,-0.6,-2.7,-1.2,-4.1,0.5,-2.3,-1.4,-3.3,-0.8,-2.5,-4.5, -1.8,-0.5,-2.8,-1.3,-4.3,0.9,-2.2,-1.5,-3.4,-0.7,-2.6,-4.6],
  [-1.6,-0.2,-2.5,-1.1,-3.7,1.3,-2.0,-1.3,-3.0,-0.4,-2.3,-4.4, -1.4,-0.1,-2.4,-0.9,-3.5,1.6,-1.9,-1.0,-2.8,-0.3,-5.6,-1.7],
  [-0.6,0.7,-1.6,-0.1,-2.6,1.4,-1.1,-0.4,-2.0,0.3,-1.4,-3.0, -1.2,-0.4,0,0,0,0,0,0,0,0,0,0],
  ZERO_YEAR, ZERO_YEAR, ZERO_YEAR, ZERO_YEAR, ZERO_YEAR, ZERO_YEAR
];
const A10c = [
  [15.8,17.1,16.4,18.1,15.4,17.6,16.8,18.3,15.5,17.4,16.1,18.9, 15.2,13.6,16.5,14.8,15.9,14.5,15.6,16.9,13.9,16.1,14.2,17.0],
  [14.1,13.8,15.5,14.2,16.4,13.3,14.4,16.0,13.0,15.3,12.6,15.8, 14.9,13.1,16.2,14.3,12.5,15.7,13.6,18.8,16.8,14.6,13.2,15.4],
  [12.5,14.0,11.6,13.4,15.3,12.2,13.0,14.8,11.9,13.7,11.2,15.1, 12.2,13.3,11.5,13.9,12.4,14.8,12.7,14.4,11.3,13.6,10.6,14.7],
  [13.2,12.0,14.7,11.6,17.1,13.5,16.2,12.9,14.6,11.2,13.3,15.1, 14.6,16.4,14.2,15.8,16.7,15.1,15.2,16.9,13.9,16.0,13.5,17.2],
  [15.3,17.3,14.8,16.8,19.0,15.6,16.1,17.9,14.5,17.0,13.8,18.4, 16.0,18.0,15.4,17.3,19.8,16.2,17.0,18.7,15.1,17.8,14.4,19.3],
  [17.0,19.1,16.4,18.2,20.4,17.3,17.6,19.5,15.9,18.8,15.2,19.8, 17.9,19.9,17.4,19.1,20.9,18.2,18.5,20.2,16.9,19.7,16.1,20.6],
  [17.5,19.6,16.1,18.7,20.8,17.6,18.2,20.0,16.6,19.3,15.7,20.4, 15.2,17.0,14.3,16.4,15.1,17.3,15.9,17.5,14.6,16.8,13.9,17.8],
  [14.4,16.2,13.6,15.5,14.1,16.3,15.0,16.5,13.8,15.8,13.2,16.8, 12.5,13.8,11.8,14.3,12.7,15.2,13.1,14.8,12.0,14.0,11.4,14.9],
  [11.9,13.7,11.0,13.1,10.1,13.9,12.6,14.3,11.4,13.4,10.5,14.6, 11.0,12.8,10.2,12.0,9.0,12.4,11.7,13.2,10.6,12.6,9.4,13.5],
  [9.8,11.4,9.1,10.8,8.3,11.5,10.3,11.8,9.4,11.1,8.5,12.0, 9.7,10.7,9.0,11.1,9.3,11.3,10.1,11.5,9.4,10.9,8.7,11.7],
  [8.8,9.8,8.2,10.3,8.7,9.9,9.2,10.7,8.5,10.1,7.8,10.8, 7.9,8.9,7.2,9.4,7.7,8.8,8.3,9.8,7.5,9.1,6.8,10.0],
  [7.2,8.4,6.4,9.1,7.5,10.9,7.8,9.5,6.9,8.8,5.7,10.0, 7.0,8.6,6.2,8.0,5.4,16.1,13.9,11.5,3.8,5.2,6.5,7.8],
  [7.3,8.5,6.4,9.1,7.1,10.1,7.8,9.5,6.9,8.9,5.8,9.8, 5.9,7.0,5.1,7.5,6.1,8.1,6.3,7.9,5.6,7.3,4.6,8.0],
  [5.5,7.1,4.8,6.5,8.9,6.8,4.2,6.1,4.4,6.3,5.1,7.0, 3.1,4.3,2.4,4.8,3.3,5.6,3.6,5.1,2.8,4.6,2.1,5.3],
  [1.6,2.7,0.8,3.1,1.4,4.1,2.0,3.6,1.3,3.0,0.3,3.8, 0.1,1.2,-0.8,1.7,0.0,2.7,0.5,2.1,-0.3,1.5,-1.4,2.3],
  [-1.5,-0.8,-2.3,0.3,-1.7,-3.3,-1.1,0.5,-1.9,-0.2,-3.0,1.1, -2.3,-1.5,-3.2,-1.0,-2.5,-4.2,-1.9,-0.3,-2.7,-1.3,-3.9,0.6],
  [-2.1,-1.3,-3.0,-0.7,-2.2,-4.1,-1.7,-0.1,-2.5,-1.1,-3.8,0.7, -2.2,-1.4,-3.3,-0.8,-2.4,-4.4,-1.9,-0.2,-2.6,-1.2,-4.0,0.8],
  [-2.5,-1.6,-3.5,-1.0,-2.7,-4.7,-2.1,-0.4,-2.9,-1.4,-4.3,0.7, -2.4,-1.7,-3.6,-0.9,-2.8,-4.8,-2.0,-0.3,-3.0,-1.5,-4.5,1.1],
  [-2.2,-1.5,-3.2,-0.6,-2.5,-4.6,-1.8,0.0,-2.7,-1.3,-3.9,1.5, -2.1,-1.2,-3.0,-0.5,-5.1,-1.9,-1.6,0.1,-2.6,-1.1,-3.7,1.8],
  [-1.3,-0.6,-2.2,0.5,-1.6,-3.2,-0.8,0.9,-1.8,-0.3,-2.8,1.6, -1.4,0,0,0,0,0,0,0,0,0,0,0],
  ZERO_YEAR, ZERO_YEAR, ZERO_YEAR, ZERO_YEAR, ZERO_YEAR, ZERO_YEAR
];

// ---------------- build tables ----------------
function toRows(yearRows, days) {
  const rows = [];
  yearRows.forEach((vals, yi) => vals.forEach((v, s) => {
    rows.push({date: new Date(Date.UTC(firstYear + yi, Math.floor(s / 2), days[s % 2])), value: v});
  }));
  return rows;
}
const rowsA04 = [...toRows(A04a, [1, 16]), ...toRows(A04b, [8, 23]), ...toRows(A04c, [12, 27])];
const rowsA07 = [...toRows(A07a, [1, 16]), ...toRows(A07b, [8, 23]), ...toRows(A07c, [12, 27])];
const rowsA10 = [...toRows(A10a, [1, 16]), ...toRows(A10b, [8, 23]), ...toRows(A10c, [12, 27])];
const utcYear = y => new Date(Date.UTC(y, 0, 1));
const xTicks = xTickYears.map(utcYear);
const fmtPct = d => d < 0 ? "- " + Math.abs(d) + "%" : d + "%";
const fmtDate = d3.utcFormat("%d/%m/%Y");
const FONT = "Lato, 'Open Sans', sans-serif";

// ---------------- header ----------------
const head = d3.select("#head");
head.append("rect").attr("x", 0).attr("y", 0).attr("width", 2216).attr("height", 54).attr("fill", "#7DC87D");
head.append("rect").attr("x", 0).attr("y", 0).attr("width", 2216).attr("height", 3).attr("fill", "#8c8c8c");
head.append("rect").attr("x", 0).attr("y", 54).attr("width", 2216).attr("height", 2).attr("fill", "#d9d9d9");
head.append("text").attr("x", 35).attr("y", 36)
  .attr("font-family", FONT).attr("font-weight", 700).attr("font-size", 27).attr("fill", "#000")
  .attr("textLength", 2076).attr("lengthAdjust", "spacingAndGlyphs")
  .text(titleText);

// ---------------- chart ----------------
const chart = Plot.plot({
  width: 2216,
  height: 1046,
  marginTop: 48,
  marginBottom: 62,
  marginLeft: 97,
  marginRight: 76,
  style: {fontFamily: FONT, color: "#595959", background: "transparent", overflow: "visible"},
  x: {type: "utc", domain: xDomainYears.map(utcYear)},
  y: {domain: [yTicks[0], yTicks[yTicks.length - 1]]},
  marks: [
    Plot.ruleX(xTicks, {stroke: "#d9d9d9", strokeWidth: 2}),
    Plot.ruleY(yTicks, {stroke: "#d9d9d9", strokeWidth: 2}),
    Plot.ruleY([axisCrossValue], {stroke: "#bfbfbf", strokeWidth: 3}),
    Plot.ruleY([zeroLineValue], {stroke: "#000", strokeWidth: 5, strokeLinecap: "round"}),
    Plot.dot(rowsA04, {x: "date", y: "value", symbol: "plus", r: 4.0, stroke: seriesColors[0], strokeWidth: 1.5}),
    Plot.dot(rowsA07, {x: "date", y: "value", symbol: "plus", r: 3.7, stroke: seriesColors[1], strokeWidth: 2.5}),
    Plot.dot(rowsA10, {x: "date", y: "value", symbol: "plus", r: 3.7, stroke: seriesColors[2], strokeWidth: 2.5}),
    Plot.axisX(xTicks, {tickSize: 0, tickPadding: 25, tickFormat: fmtDate, fontSize: 20, label: null}),
    Plot.axisY(yTicks, {tickSize: 0, tickPadding: 19, tickFormat: fmtPct, fontSize: 22, label: null})
  ]
});
document.getElementById("chart").appendChild(chart);

const svg = d3.select(chart);

// chart title box (white background hides gridlines and points beneath)
svg.append("rect").attr("x", 226).attr("y", 24).attr("width", 1751).attr("height", 132).attr("fill", "#fff");
const sub = svg.append("g")
  .attr("font-family", FONT).attr("font-size", 26).attr("font-weight", 500)
  .attr("fill", "#595959").attr("text-anchor", "middle");
const subY = [58, 100, 142];
subtitleLines.forEach((s, i) => {
  sub.append("text").attr("x", 1102).attr("y", subY[i]).style("white-space", "pre").text(s);
});
const w1 = sub.select("text").node().getComputedTextLength();
const k1 = 1743 / w1;
sub.attr("transform", `translate(1102,0) scale(${k1},1) translate(-1102,0)`);

// legend
svg.append("rect").attr("x", 1808).attr("y", 137).attr("width", 328).attr("height", 252).attr("fill", "#fff");
const leg = svg.append("g");
const legY = [169, 232, 296];
const legW = [1.4, 2.4, 2.4];
seriesNames.forEach((name, i) => {
  leg.append("path").attr("d", `M${1870 - 4},${legY[i]}H${1870 + 4}M1870,${legY[i] - 4}V${legY[i] + 4}`)
    .attr("stroke", seriesColors[i]).attr("stroke-width", legW[i]).attr("fill", "none");
});
leg.append("line").attr("x1", 1849).attr("x2", 1893).attr("y1", 361).attr("y2", 361)
  .attr("stroke", "#000").attr("stroke-width", 5).attr("stroke-linecap", "round");
const legText = leg.append("g").attr("font-family", FONT).attr("font-size", 29)
  .attr("fill", "#595959").attr("text-anchor", "start");
seriesNames.forEach((name, i) => {
  legText.append("text").attr("x", 1900).attr("y", legY[i] + 10).text(name);
});
legText.append("text").attr("x", 1900).attr("y", 371).text(zeroLineName);
const wl = legText.select("text").node().getComputedTextLength();
const kl = 200 / wl;
legText.attr("transform", `translate(1900,0) scale(${kl},1) translate(-1900,0)`);
</script>
</body>
</html>
